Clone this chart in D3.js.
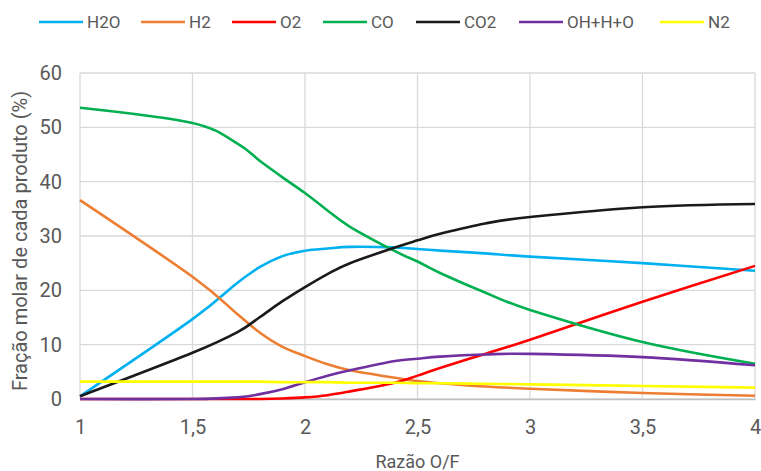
<!DOCTYPE html>
<html>
<head>
<meta charset="utf-8">
<script src="https://cdn.jsdelivr.net/npm/d3@7"></script>
<style>
  body { margin: 0; background: #fff; }
  svg text { font-family: Roboto, "Liberation Sans", sans-serif; fill: #595959; }
</style>
</head>
<body>
<svg id="chart"></svg>
<script>
"use strict";

// O/F ratios sampled
var ratios = [1, 1.5, 1.7, 1.8, 1.9, 2.0, 2.1, 2.2, 2.4, 2.5, 2.6, 2.8, 3.0, 3.5, 4.0];

var h2o  = [0.5, 14.7, 21.4, 24.3, 26.3, 27.3, 27.7, 28.0, 27.9, 27.6, 27.3, 26.8, 26.2, 25.0, 23.6];
var h2   = [36.6, 22.5, 15.6, 12.2, 9.6, 7.9, 6.4, 5.3, 3.9, 3.3, 2.9, 2.3, 1.9, 1.1, 0.6];
var o2   = [0, 0, 0, 0, 0.1, 0.3, 0.7, 1.4, 3.0, 4.3, 5.7, 8.3, 10.9, 17.9, 24.5];
var co   = [53.6, 50.8, 47.0, 43.8, 40.8, 37.9, 34.7, 31.7, 27.2, 25.3, 23.2, 19.6, 16.4, 10.5, 6.5];
var co2  = [0.5, 8.5, 12.3, 15.1, 18.0, 20.6, 23.0, 25.0, 27.9, 29.2, 30.4, 32.3, 33.5, 35.3, 35.9];
var ohho = [0, 0, 0.3, 0.9, 1.8, 3.1, 4.3, 5.3, 7.0, 7.4, 7.8, 8.2, 8.3, 7.7, 6.2];
var n2   = [3.2, 3.2, 3.2, 3.2, 3.1, 3.1, 3.1, 3.0, 3.0, 2.9, 2.9, 2.8, 2.7, 2.4, 2.1];

var seriesNames = ["H2O", "H2", "O2", "CO", "CO2", "OH+H+O", "N2"];
var seriesValues = [h2o, h2, o2, co, co2, ohho, n2];
var seriesColors = ["#00b0f0", "#ed7d31", "#ff0000", "#00b050", "#1a1a1a", "#7030a0", "#ffff00"];

var xTicks = [1, 1.5, 2, 2.5, 3, 3.5, 4];
var yTicks = [0, 10, 20, 30, 40, 50, 60];

var width = 761, height = 471;
var margin = { top: 73, right: 6, bottom: 72, left: 80 };

var svg = d3.select("#chart")
	.attr("width", width)
	.attr("height", height);

var x = d3.scaleLinear()
	.domain([1, 4])
	.range([margin.left, width - margin.right]);

var y = d3.scaleLinear()
	.domain([0, 60])
	.range([height - margin.bottom, margin.top]);

var fmt = function (d) { return String(d).replace(".", ","); };

// grid
svg.append("g")
	.selectAll("line.h")
	.data(yTicks)
	.enter().append("line")
	.attr("x1", x(1)).attr("x2", x(4))
	.attr("y1", function (d) { return y(d); })
	.attr("y2", function (d) { return y(d); })
	.attr("stroke", "#d9d9d9")
	.attr("stroke-width", 1.3);

svg.append("g")
	.selectAll("line.v")
	.data(xTicks)
	.enter().append("line")
	.attr("y1", y(0)).attr("y2", y(60))
	.attr("x1", function (d) { return x(d); })
	.attr("x2", function (d) { return x(d); })
	.attr("stroke", "#d9d9d9")
	.attr("stroke-width", 1.3);

// axes
var xAxis = svg.append("g")
	.attr("transform", "translate(0," + y(0) + ")")
	.call(d3.axisBottom(x).tickValues(xTicks).tickSize(0).tickPadding(21).tickFormat(fmt));
xAxis.select(".domain").attr("stroke", "#bfbfbf").attr("stroke-width", 1.5);
xAxis.selectAll("text").attr("font-size", 20);

var yAxis = svg.append("g")
	.attr("transform", "translate(" + x(1) + ",0)")
	.call(d3.axisLeft(y).tickValues(yTicks).tickSize(0).tickPadding(18));
yAxis.select(".domain").remove();
yAxis.selectAll("text").attr("font-size", 20);

// lines (excel-like smoothing)
var line = d3.line()
	.x(function (d, i) { return x(ratios[i]); })
	.y(function (d) { return y(d); })
	.curve(d3.curveCardinal.tension(0));

svg.append("g")
	.selectAll("path")
	.data(seriesValues)
	.enter().append("path")
	.attr("d", line)
	.attr("fill", "none")
	.attr("stroke", function (d, i) { return seriesColors[i]; })
	.attr("stroke-width", 2.6)
	.attr("stroke-linejoin", "round");

// axis titles
svg.append("text")
	.attr("x", (x(1) + x(4)) / 2)
	.attr("y", 468)
	.attr("text-anchor", "middle")
	.attr("font-size", 18)
	.text("Razão O/F");

svg.append("text")
	.attr("transform", "translate(27," + ((y(0) + y(60)) / 2 + 5) + ") rotate(-90)")
	.attr("text-anchor", "middle")
	.attr("font-size", 20)
	.text("Fração molar de cada produto (%)");

// legend
var legendX = [39, 141, 232, 323, 416, 519, 660];
var legend = svg.append("g")
	.selectAll("g")
	.data(seriesNames)
	.enter().append("g")
	.attr("transform", function (d, i) { return "translate(" + legendX[i] + ",22)"; });

legend.append("line")
	.attr("x1", 0).attr("x2", 44)
	.attr("stroke", function (d, i) { return seriesColors[i]; })
	.attr("stroke-width", 2.6);

legend.append("text")
	.attr("x", 48)
	.attr("y", 6)
	.attr("font-size", 17)
	.text(function (d) { return d; });
</script>
</body>
</html>
